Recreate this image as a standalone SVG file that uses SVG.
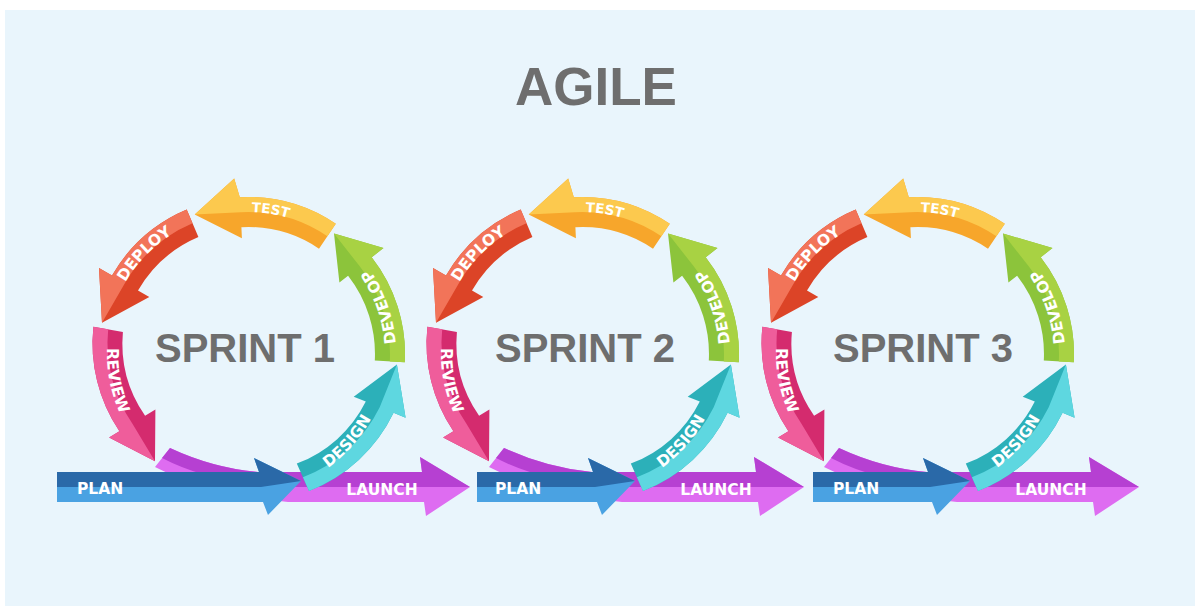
<svg xmlns="http://www.w3.org/2000/svg" xmlns:xlink="http://www.w3.org/1999/xlink" width="1195" height="606" viewBox="0 0 1195 606">
<style>
.title{font-family:"Liberation Sans",Arial,sans-serif;font-weight:bold;font-size:53px;fill:#6e6e6e}
.sprint{font-family:"Liberation Sans",Arial,sans-serif;font-weight:bold;font-size:40px;fill:#6e6e6e}
.lbl{font-family:"DejaVu Sans","Liberation Sans",sans-serif;font-weight:bold;font-size:15.5px;fill:#ffffff}
.lbl-s{font-size:13.5px}
.test-a{fill:#f7a62b}.test-b{fill:#fcc94e}
.deploy-a{fill:#dc4427}.deploy-b{fill:#f27459}
.review-a{fill:#d42b6e}.review-b{fill:#ef5d9b}
.develop-a{fill:#8cc43b}.develop-b{fill:#a8d243}
.design-a{fill:#2cb0b9}.design-b{fill:#5ed7e0}
.plan-a{fill:#4aa2e2}.plan-b{fill:#2a69a8}
.launch-a{fill:#de6cf1}.launch-b{fill:#b640d2}
</style>
<defs>
  <path id="launch-full" class="launch-a" d="M -78,94 Q -35,114 10,118 L 174,118 L 172,103 L 222,133 L 178,162 L 176,148 L 40,148 Q -40,140 -93,113 Z"/>
  <path id="launch-half" class="launch-b" d="M -78,94 Q -35,114 10,118 L 174,118 L 172,103 L 222,133 L 30,133 Q -40,128 -86,104 Z"/>
  <path id="review-full" class="review-a" d="M -154.6,-27.3 A 157 157 0 0 0 -128.6,77.3 L -138.9,83.4 L -93.0,107.2 L -92.6,55.6 L -102.9,61.8 A 127 127 0 0 1 -125.1,-22.0 Z"/>
  <path id="review-half" class="review-b" d="M -154.6,-27.3 A 157 157 0 0 0 -128.6,77.3 L -138.9,83.4 L -93.0,107.2 L -115.7,69.5 A 142 142 0 0 1 -139.8,-24.7 Z"/>
  <path id="deploy-full" class="deploy-a" d="M -61.3,-144.5 A 157 157 0 0 0 -136.0,-78.5 L -149.0,-86.0 L -146.0,-31.2 L -98.7,-57.0 L -110.0,-63.5 A 127 127 0 0 1 -49.6,-116.9 Z"/>
  <path id="deploy-half" class="deploy-b" d="M -61.3,-144.5 A 157 157 0 0 0 -136.0,-78.5 L -149.0,-86.0 L -146.0,-31.2 L -123.0,-71.0 A 142 142 0 0 1 -55.5,-130.7 Z"/>
  <path id="test-full" class="test-a" d="M 87.8,-130.2 A 157 157 0 0 0 -8.2,-156.8 L -13.8,-175.5 L -53.3,-139.4 L -6.1,-115.8 L -6.6,-126.8 A 127 127 0 0 1 71.0,-105.3 Z"/>
  <path id="test-half" class="test-b" d="M 87.8,-130.2 A 157 157 0 0 0 -8.2,-156.8 L -13.8,-175.5 L -53.3,-139.4 L -7.4,-141.8 A 142 142 0 0 1 79.4,-117.7 Z"/>
  <path id="develop-full" class="develop-a" d="M 156.8,8.2 A 157 157 0 0 0 123.7,-96.7 L 135.5,-105.9 L 86.0,-120.5 L 91.4,-71.4 L 100.1,-78.2 A 127 127 0 0 1 126.8,6.6 Z"/>
  <path id="develop-half" class="develop-b" d="M 156.8,8.2 A 157 157 0 0 0 123.7,-96.7 L 135.5,-105.9 L 86.0,-120.5 L 111.9,-87.4 A 142 142 0 0 1 141.8,7.4 Z"/>
  <path id="design-full" class="design-a" d="M 61.0,137.0 A 157 157 0 0 0 145.6,58.8 L 157.6,63.7 L 148.9,10.5 L 105.7,42.7 L 117.8,47.6 A 127 127 0 0 1 48.8,109.6 Z"/>
  <path id="design-half" class="design-b" d="M 61.0,137.0 A 157 157 0 0 0 145.6,58.8 L 157.6,63.7 L 148.9,10.5 L 131.7,53.2 A 142 142 0 0 1 54.9,123.3 Z"/>
  <path id="tp-test" d="M -73.1,-121.7 A 142 142 0 0 1 107.2,-93.2"/>
  <path id="tp-deploy" d="M -141.7,-9.9 A 142 142 0 0 1 -14.8,-141.2"/>
  <path id="tp-review" d="M -123.8,-67.5 A 141 141 0 0 0 -88.0,110.2"/>
  <path id="tp-develop" d="M 138.7,51.6 A 148 148 0 0 0 74.9,-127.7"/>
  <path id="tp-design" d="M 21.0,137.4 A 139 139 0 0 0 139.0,3.2"/>
</defs>
<rect x="0" y="0" width="1195" height="606" fill="#ffffff"/>
<rect x="5" y="10" width="1190" height="596" fill="#e9f5fc"/>
<g id="title"><text class="title" x="596" y="105" text-anchor="middle">AGILE</text></g>

<g id="sprint-1" transform="translate(248,354)">
  <g id="s1-launch"><use href="#launch-full"/><use href="#launch-half"/><text class="lbl" x="134" y="141" text-anchor="middle">LAUNCH</text></g>
  <g id="s1-plan"><path class="plan-a" d="M -191,118 L 11,118 L 6,104 L 53,127 L 20,161 L 15,148 L -191,148 Z"/><path class="plan-b" d="M -191,118 L 11,118 L 6,104 L 53,127 L 13,133 L -191,133 Z"/><text class="lbl" x="-171" y="140">PLAN</text></g>
  <g id="s1-review"><use href="#review-full"/><use href="#review-half"/><text class="lbl"><textPath href="#tp-review" startOffset="50%" text-anchor="middle">REVIEW</textPath></text></g>
  <g id="s1-deploy"><use href="#deploy-full"/><use href="#deploy-half"/><text class="lbl"><textPath href="#tp-deploy" startOffset="50%" text-anchor="middle">DEPLOY</textPath></text></g>
  <g id="s1-test"><use href="#test-full"/><use href="#test-half"/><text class="lbl lbl-s"><textPath href="#tp-test" startOffset="50%" text-anchor="middle">TEST</textPath></text></g>
  <g id="s1-develop"><use href="#develop-full"/><use href="#develop-half"/><text class="lbl"><textPath href="#tp-develop" startOffset="50%" text-anchor="middle">DEVELOP</textPath></text></g>
  <g id="s1-design"><use href="#design-full"/><use href="#design-half"/><text class="lbl"><textPath href="#tp-design" startOffset="50%" text-anchor="middle">DESIGN</textPath></text></g>
  <text class="sprint" x="-3" y="8" text-anchor="middle">SPRINT 1</text>
</g>

<g id="sprint-2" transform="translate(582,354)">
  <g id="s2-launch"><use href="#launch-full"/><use href="#launch-half"/><text class="lbl" x="134" y="141" text-anchor="middle">LAUNCH</text></g>
  <g id="s2-plan"><path class="plan-a" d="M -105,118 L 11,118 L 6,104 L 53,127 L 20,161 L 15,148 L -105,148 Z"/><path class="plan-b" d="M -105,118 L 11,118 L 6,104 L 53,127 L 13,133 L -105,133 Z"/><text class="lbl" x="-87" y="140">PLAN</text></g>
  <g id="s2-review"><use href="#review-full"/><use href="#review-half"/><text class="lbl"><textPath href="#tp-review" startOffset="50%" text-anchor="middle">REVIEW</textPath></text></g>
  <g id="s2-deploy"><use href="#deploy-full"/><use href="#deploy-half"/><text class="lbl"><textPath href="#tp-deploy" startOffset="50%" text-anchor="middle">DEPLOY</textPath></text></g>
  <g id="s2-test"><use href="#test-full"/><use href="#test-half"/><text class="lbl lbl-s"><textPath href="#tp-test" startOffset="50%" text-anchor="middle">TEST</textPath></text></g>
  <g id="s2-develop"><use href="#develop-full"/><use href="#develop-half"/><text class="lbl"><textPath href="#tp-develop" startOffset="50%" text-anchor="middle">DEVELOP</textPath></text></g>
  <g id="s2-design"><use href="#design-full"/><use href="#design-half"/><text class="lbl"><textPath href="#tp-design" startOffset="50%" text-anchor="middle">DESIGN</textPath></text></g>
  <text class="sprint" x="3" y="8" text-anchor="middle">SPRINT 2</text>
</g>

<g id="sprint-3" transform="translate(917,354)">
  <g id="s3-launch"><use href="#launch-full"/><use href="#launch-half"/><text class="lbl" x="134" y="141" text-anchor="middle">LAUNCH</text></g>
  <g id="s3-plan"><path class="plan-a" d="M -104,118 L 11,118 L 6,104 L 53,127 L 20,161 L 15,148 L -104,148 Z"/><path class="plan-b" d="M -104,118 L 11,118 L 6,104 L 53,127 L 13,133 L -104,133 Z"/><text class="lbl" x="-84" y="140">PLAN</text></g>
  <g id="s3-review"><use href="#review-full"/><use href="#review-half"/><text class="lbl"><textPath href="#tp-review" startOffset="50%" text-anchor="middle">REVIEW</textPath></text></g>
  <g id="s3-deploy"><use href="#deploy-full"/><use href="#deploy-half"/><text class="lbl"><textPath href="#tp-deploy" startOffset="50%" text-anchor="middle">DEPLOY</textPath></text></g>
  <g id="s3-test"><use href="#test-full"/><use href="#test-half"/><text class="lbl lbl-s"><textPath href="#tp-test" startOffset="50%" text-anchor="middle">TEST</textPath></text></g>
  <g id="s3-develop"><use href="#develop-full"/><use href="#develop-half"/><text class="lbl"><textPath href="#tp-develop" startOffset="50%" text-anchor="middle">DEVELOP</textPath></text></g>
  <g id="s3-design"><use href="#design-full"/><use href="#design-half"/><text class="lbl"><textPath href="#tp-design" startOffset="50%" text-anchor="middle">DESIGN</textPath></text></g>
  <text class="sprint" x="6" y="8" text-anchor="middle">SPRINT 3</text>
</g>
</svg>
